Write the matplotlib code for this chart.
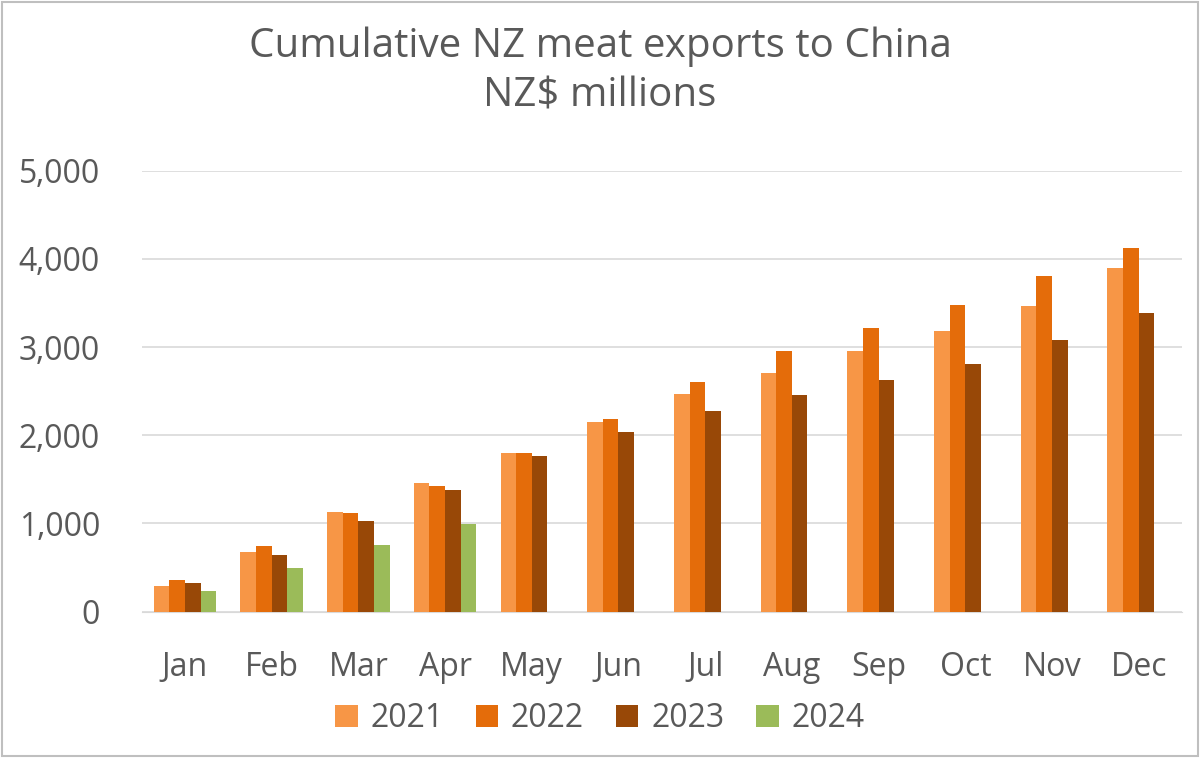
import matplotlib.pyplot as plt
import numpy as np

months = ['Jan', 'Feb', 'Mar', 'Apr', 'May', 'Jun', 'Jul', 'Aug', 'Sep', 'Oct', 'Nov', 'Dec']
y2021 = [295, 680, 1130, 1460, 1800, 2150, 2470, 2710, 2950, 3180, 3470, 3900]
y2022 = [360, 750, 1120, 1420, 1800, 2180, 2600, 2960, 3220, 3480, 3800, 4120]
y2023 = [320, 640, 1030, 1380, 1770, 2040, 2270, 2460, 2630, 2810, 3080, 3380]
y2024 = [230, 490, 760, 990]

plt.rcParams['font.family'] = 'Open Sans'
fig = plt.figure(figsize=(12, 7.58), dpi=100)
ax = fig.add_axes([0.118, 0.193, 0.867, 0.582])

x = np.arange(len(months))
w = 0.18
series = [(y2021, '#F79646', '2021'), (y2022, '#E46C0A', '2022'),
          (y2023, '#984807', '2023'), (y2024, '#9BBB59', '2024')]
for i, (vals, col, lab) in enumerate(series):
    ax.bar(x[:len(vals)] + (i - 1.5) * w, vals, w, color=col, label=lab, zorder=3)

ax.set_ylim(0, 5000)
ax.set_xlim(-0.5, 11.5)
ax.set_yticks(range(0, 5001, 1000))
ax.set_yticklabels([f'{v:,}' for v in range(0, 5001, 1000)])
ax.set_xticks(x)
ax.set_xticklabels(months)
ax.tick_params(axis='both', labelsize=23, colors='#595959', length=0)
ax.tick_params(axis='y', pad=30)
ax.tick_params(axis='x', pad=28)
ax.grid(axis='y', color='#D9D9D9', linewidth=1.2, zorder=0)
for s in ['top', 'right', 'left']:
    ax.spines[s].set_visible(False)
ax.spines['bottom'].set_color('#D9D9D9')

fig.suptitle('Cumulative NZ meat exports to China\nNZ$ millions', y=0.965,
             fontsize=29, color='#595959', linespacing=1.3)
fig.legend(loc='lower center', bbox_to_anchor=(0.5, -0.008), ncol=4, frameon=False,
           fontsize=23, labelcolor='#595959', handlelength=0.7, handleheight=0.7,
           columnspacing=1.0, handletextpad=0.4)
fig.patches.append(plt.Rectangle((0.002, 0.002), 0.996, 0.996, transform=fig.transFigure,
                                 fill=False, edgecolor='#BFBFBF', linewidth=1.5))
fig.savefig('out.png', dpi=100)
